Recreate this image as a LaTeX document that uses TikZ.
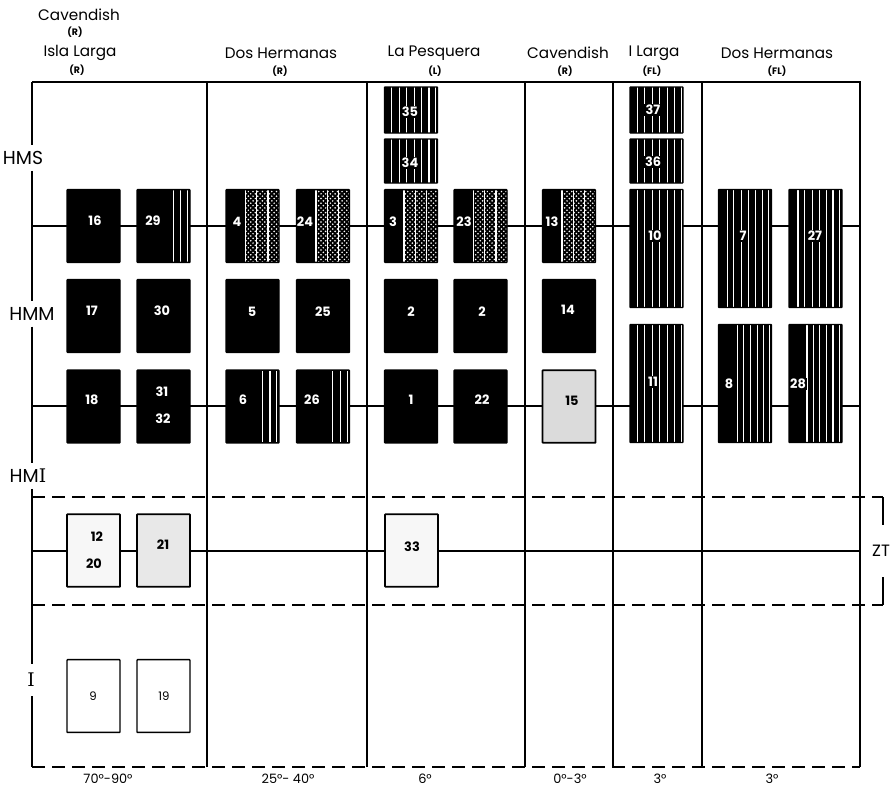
\documentclass[tikz,border=0pt]{standalone}
\usepackage{fontspec}
\setsansfont{Poppins}
\newfontfamily\slabfont{DejaVu Serif}
\usepackage{tikz}
\usetikzlibrary{patterns}
\definecolor{stipdark}{gray}{0.86}
\definecolor{stiplight}{gray}{0.91}
\definecolor{stipfaint}{gray}{0.97}
% heavy cross hatching for the dotted bands
\pgfdeclarepatternformonly{heavyhatch}{\pgfqpoint{-1pt}{-1pt}}{\pgfqpoint{5pt}{5pt}}{\pgfqpoint{4pt}{4pt}}{%
  \pgfsetlinewidth{1.5pt}%
  \pgfpathmoveto{\pgfqpoint{0pt}{0pt}}\pgfpathlineto{\pgfqpoint{4.1pt}{4.1pt}}%
  \pgfpathmoveto{\pgfqpoint{0pt}{4pt}}\pgfpathlineto{\pgfqpoint{4.1pt}{-0.1pt}}%
  \pgfusepath{stroke}}

\begin{document}
\begin{tikzpicture}[x=0.3mm, y=-0.3mm,
    frame/.style={black, line width=1.5pt},
    level/.style={black, line width=1.2pt},
    zone/.style={black, line width=1.3pt, dash pattern=on 4mm off 2mm},
    box/.style={draw=black, line width=1.2pt, minimum width=\bw, minimum height=\bh, inner sep=0pt, rounded corners=0.5pt},
    blackbox/.style={box, fill=black},
    tallbox/.style={blackbox, minimum height=\th},
    topbox/.style={blackbox, minimum height=13.5mm},
    stripes/.style={path picture={
        \foreach \s in {#1}
          \draw[white, line width=0.9pt] ([xshift={\s*\bw}]path picture bounding box.north west) -- ([xshift={\s*\bw}]path picture bounding box.south west);}},
    dotted/.style={path picture={
        \fill[white] ([xshift={0.36*\bw}]path picture bounding box.north west) rectangle (path picture bounding box.south east);
        \fill[pattern=heavyhatch] ([xshift={0.36*\bw}]path picture bounding box.north west) rectangle (path picture bounding box.south east);
        \foreach \s in {0.37,0.58,0.79}
          \draw[white, line width=1.2pt] ([xshift={\s*\bw}]path picture bounding box.north west) -- ([xshift={\s*\bw}]path picture bounding box.south west);}},
    num/.style={text=white, font=\sffamily\bfseries\fontsize{11}{13}\selectfont, inner sep=1.2pt},
    numbg/.style={num, fill=black},
    darknum/.style={num, text=black},
    plainnum/.style={text=black, font=\sffamily\fontsize{10}{12}\selectfont, inner sep=1pt},
    head/.style={font=\sffamily\fontsize{13}{15}\selectfont, inner sep=1pt},
    sub/.style={font=\sffamily\bfseries\fontsize{8}{9}\selectfont, inner sep=1pt},
    zonelabel/.style={font=\sffamily\fontsize{16}{18}\selectfont, inner sep=5pt},
    angle/.style={font=\sffamily\fontsize{11}{13}\selectfont, inner sep=1pt}]
  \def\bw{15.9mm}
  \def\bh{21.8mm}
  \def\th{35.4mm}
  \useasboundingbox (0,0) rectangle (894,789);

  % frame
  \coordinate (nw) at (32,82);
  \coordinate (ne) at (860,82);
  \coordinate (sw) at (32,767);
  \coordinate (se) at (860,767);
  \draw[frame] (nw) -- (ne) -- (se);
  \draw[zone] (sw) -- (se);
  \foreach \x in {207,367,525,613,702}
    \draw[frame] (\x,82) -- (\x,767);

  % zone labels on the left edge
  \node[zonelabel] (hms) at (23,158) {HMS};
  \node[zonelabel] (hmm) at (32,314) {HMM};
  \node[zonelabel] (hmi) at (28,476) {HM{\slabfont I}};
  \node[zonelabel, inner ysep=8pt] (ii) at (31,680) {\slabfont I};
  \draw[frame] (nw) -- (nw |- hms.north);
  \draw[frame] (nw |- hms.south) -- (nw |- hmm.north);
  \draw[frame] (nw |- hmm.south) -- (nw |- hmi.north);
  \draw[frame] (nw |- hmi.south) -- (nw |- ii.north);
  \draw[frame] (nw |- ii.south) -- (sw);

  % level lines
  \coordinate (l1) at (32,226);  \coordinate (r1) at (860,226);
  \coordinate (l2) at (32,406);  \coordinate (r2) at (860,406);
  \coordinate (l3) at (32,551);  \coordinate (r3) at (860,551);
  \draw[level] (l1) -- (r1);
  \draw[level] (l2) -- (r2);
  \draw[level] (l3) -- (r3);

  % transition zone
  \coordinate (zt1) at (883,497);
  \coordinate (zt2) at (883,605);
  \draw[zone] (32,497) -- (zt1);
  \draw[zone] (32,605) -- (zt2);
  \node[head, font=\sffamily\fontsize{14}{16}\selectfont, inner ysep=6mm] (zt) at (881,551) {ZT};
  \draw[frame] (zt1) -- (zt1 |- zt.north);
  \draw[frame] (zt2) -- (zt2 |- zt.south);

  % headers
  \node[head] (hcav) at (79,15) {Cavendish};
  \node[sub] at (75,32) {(R)};
  \node[head] (hisla) at (80,53) {Isla Larga};
  \node[sub] at (77,70) {(R)};
  \node[head] (hdos) at (281,53) {Dos Hermanas};
  \node[sub] at (280,71) {(R)};
  \node[head] (hpes) at (434,53) {La Pesquera};
  \node[sub] at (435,71) {(L)};
  \node[head] (hcav2) at (568,53) {Cavendish};
  \node[sub] at (565,71) {(R)};
  \node[head] (hlar) at (654,53) {I Larga};
  \node[sub] at (652,71) {(FL)};
  \node[head] (hdos2) at (777,53) {Dos Hermanas};
  \node[sub] at (777,71) {(FL)};

  % Isla Larga / Cavendish (R)
  \node[blackbox] (b16) at (93.5,226) {};
  \node[blackbox, stripes={0.68,0.82,0.95}] (b29) at (163.5,226) {};
  \node[blackbox] (b17) at (93.5,316) {};
  \node[blackbox] (b30) at (163.5,316) {};
  \node[blackbox] (b18) at (93.5,406.5) {};
  \node[blackbox] (b31) at (163.5,406.5) {};
  \node[box, line width=1.5pt, fill=stipfaint] (b12) at (93.5,550.5) {};
  \node[box, line width=1.5pt, fill=stiplight] (b21) at (163.5,550.5) {};
  \node[box] (b9) at (93.5,696) {};
  \node[box] (b19) at (163.5,696) {};
  \node[num] at (95,221) {16};
  \node[num] at (153,221) {29};
  \node[num] at (92,311) {17};
  \node[num] at (162,311) {30};
  \node[num] at (92,400) {18};
  \node[num] at (162,392) {31};
  \node[num] at (163,419) {32};
  \node[darknum] at (97,537) {12};
  \node[darknum] at (94,564) {20};
  \node[darknum] at (163,545) {21};
  \node[plainnum] at (93,696) {9};
  \node[plainnum] at (164,696) {19};

  % Dos Hermanas (R)
  \node[blackbox, dotted] (b4) at (252.5,226) {};
  \node[blackbox, dotted] (b24) at (323,226) {};
  \node[blackbox] (b5) at (252.5,316) {};
  \node[blackbox] (b25) at (323,316) {};
  \node[blackbox, stripes={0.68,0.83,0.96}] (b6) at (252.5,406.5) {};
  \node[blackbox, stripes={0.68,0.83,0.96}] (b26) at (323,406.5) {};
  \node[num] at (237,222) {4};
  \node[num] at (305,222) {24};
  \node[num] at (252,312) {5};
  \node[num] at (323,312) {25};
  \node[num] at (243,400) {6};
  \node[num] at (312,400) {26};

  % La Pesquera (L)
  \node[topbox, minimum height=13.8mm, stripes={0.14,0.28,0.42,0.56,0.70,0.84,0.97}] (b35) at (411,110) {};
  \node[topbox, minimum height=13.2mm, stripes={0.14,0.28,0.42,0.56,0.70,0.84,0.97}] (b34) at (411,161) {};
  \node[blackbox, dotted] (b3) at (411,226) {};
  \node[blackbox, dotted] (b23) at (480.5,226) {};
  \node[blackbox] (b2) at (411,316) {};
  \node[blackbox] (b2b) at (480.5,316) {};
  \node[blackbox] (b1) at (411,406.5) {};
  \node[blackbox] (b22) at (480.5,406.5) {};
  \node[box, line width=1.5pt, fill=stipfaint] (b33) at (411.5,550.5) {};
  \node[numbg] at (410,112) {35};
  \node[numbg] at (410,163) {34};
  \node[num] at (393,222) {3};
  \node[num] at (464,222) {23};
  \node[num] at (411,312) {2};
  \node[num] at (482,312) {2};
  \node[num] at (411,400) {1};
  \node[num] at (482,400) {22};
  \node[darknum] at (412,547) {33};

  % Cavendish (R)
  \node[blackbox, dotted] (b13) at (569,226) {};
  \node[blackbox] (b14) at (569,316) {};
  \node[box, line width=1.5pt, fill=stipdark] (b15) at (569,406.5) {};
  \node[num] at (552,222) {13};
  \node[num] at (568,310) {14};
  \node[darknum] at (572,401) {15};

  % I Larga (FL)
  \node[topbox, minimum height=13.8mm, stripes={0.14,0.28,0.42,0.56,0.70,0.84,0.97}] (b37) at (656.5,110) {};
  \node[topbox, minimum height=13.2mm, stripes={0.14,0.28,0.42,0.56,0.70,0.84,0.97}] (b36) at (656.5,161) {};
  \node[tallbox, stripes={0.14,0.28,0.42,0.56,0.70,0.84,0.97}] (b10) at (656.5,248.5) {};
  \node[tallbox, stripes={0.14,0.28,0.42,0.56,0.70,0.84,0.97}] (b11) at (656.5,383.5) {};
  \node[numbg] at (653,110) {37};
  \node[numbg] at (653,162) {36};
  \node[numbg] at (655,236) {10};
  \node[numbg] at (653,382) {11};

  % Dos Hermanas (FL)
  \node[tallbox, stripes={0.17,0.29,0.44,0.57,0.70,0.83,0.95}] (b7) at (745,248.5) {};
  \node[tallbox, stripes={0.17,0.29,0.44,0.57,0.70,0.83,0.95}] (b27) at (815.5,248.5) {};
  \node[tallbox, stripes={0.36,0.48,0.60,0.73,0.85,0.97}] (b8) at (745,383.5) {};
  \node[tallbox, stripes={0.34,0.46,0.58,0.71,0.83,0.96}] (b28) at (815.5,383.5) {};
  \node[numbg] at (743,236) {7};
  \node[numbg] at (815,236) {27};
  \node[numbg] at (729,384) {8};
  \node[numbg] at (798,384) {28};

  % dips
  \node[angle] at (108,779) {70°-90°};
  \node[angle] at (288,779) {25°- 40°};
  \node[angle] at (425,779) {6°};
  \node[angle] at (570,779) {0°-3°};
  \node[angle] at (660,779) {3°};
  \node[angle] at (772,779) {3°};
\end{tikzpicture}
\end{document}
